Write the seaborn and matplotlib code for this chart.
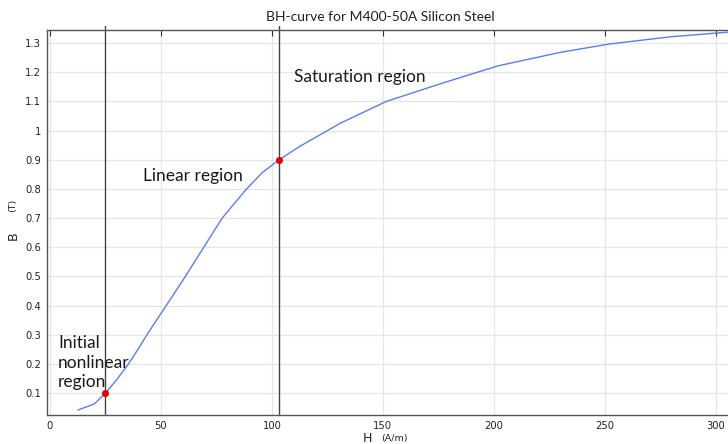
import matplotlib
matplotlib.use("Agg")
import matplotlib.pyplot as plt
import seaborn as sns
import pandas as pd

# BH curve data
H_vals = [12.6, 20.0, 25.0, 30.0, 35.4, 39.5, 43.7, 48.0, 52.4, 61.0, 69.3,
          77.6, 88.0, 95.5, 103.2, 113.0, 131.0, 151.5, 177.7, 201.8, 229.7,
          252.0, 280.0, 306.0]
B_vals = [0.042, 0.063, 0.100, 0.145, 0.200, 0.248, 0.300, 0.350, 0.400,
          0.500, 0.600, 0.700, 0.795, 0.855, 0.900, 0.948, 1.026, 1.100,
          1.165, 1.222, 1.268, 1.297, 1.322, 1.338]

# region boundary points
boundary_H = [25.0, 103.2]
boundary_B = [0.100, 0.900]

x_ticks = [0, 50, 100, 150, 200, 250, 300]
y_ticks = [0.1, 0.2, 0.3, 0.4, 0.5, 0.6, 0.7, 0.8, 0.9, 1.0, 1.1, 1.2, 1.3]
y_tick_labels = ["0.1", "0.2", "0.3", "0.4", "0.5", "0.6", "0.7", "0.8",
                 "0.9", "1", "1.1", "1.2", "1.3"]

region_labels = ["Initial\nnonlinear\nregion", "Linear region", "Saturation region"]
region_pos = [(3.6, 0.205), (42.0, 0.845), (110.0, 1.183)]

title = "BH-curve for M400-50A Silicon Steel"

sns.set_style("white")
plt.rcParams['font.family'] = ['DejaVu Sans']

df = pd.DataFrame({"H": H_vals, "B": B_vals})
pts = pd.DataFrame({"H": boundary_H, "B": boundary_B})

fig = plt.figure(figsize=(7.28, 4.44), dpi=100)
ax = fig.add_axes([0.064, 0.0653, 0.936, 0.8671])

ax.grid(True, color="#e6e6e6", linewidth=0.9)
ax.set_axisbelow(True)

for hb in boundary_H:
    ax.axvline(hb, color="#444444", linewidth=1.0, zorder=2, clip_on=False,
               ymin=0, ymax=1.01)

sns.lineplot(data=df, x="H", y="B", ax=ax, color="#5b7cf2", linewidth=1.0,
             zorder=3, sort=False)
sns.scatterplot(data=pts, x="H", y="B", ax=ax, color="#e00000", s=22,
                edgecolor="#e00000", zorder=4)

ax.set_xlim(-1.5, 305.5)
ax.set_ylim(0.025, 1.345)
ax.set_xticks(x_ticks)
ax.set_yticks(y_ticks)
ax.set_yticklabels(y_tick_labels)
ax.tick_params(direction="in", length=4, width=0.8, color="#333333",
               labelsize=7.2, labelcolor="#222222", top=True, right=False,
               pad=4)
ax.set_xlabel("")
ax.set_ylabel("")

for side in ["left", "bottom", "top"]:
    ax.spines[side].set_color("#555555")
    ax.spines[side].set_linewidth(1.0)
ax.spines["right"].set_visible(False)

fig.text(380 / 728, 1 - 17 / 444, title, fontsize=10,
         family=["Lato", "DejaVu Sans"], color="#222222",
         ha="center", va="center")

# axis labels
fig.text(367 / 728, 1 - 438 / 444, "H", fontsize=9, ha="center", va="center",
         color="#222222")
fig.text(394 / 728, 1 - 438 / 444, "(A/m)", fontsize=6.8, ha="center",
         va="center", color="#222222")
fig.text(13 / 728, 1 - 236 / 444, "B", fontsize=9, ha="center", va="center",
         rotation=90, color="#222222")
fig.text(13 / 728, 1 - 205 / 444, "(T)", fontsize=6.8, ha="center",
         va="center", rotation=90, color="#222222")

for lab, (hx, by) in zip(region_labels, region_pos):
    ax.text(hx, by, lab, fontsize=12.5, family=["Lato", "DejaVu Sans"],
            color="#1a1a1a", ha="left", va="center", linespacing=1.3,
            zorder=5)

fig.savefig("out.png", dpi=100)
